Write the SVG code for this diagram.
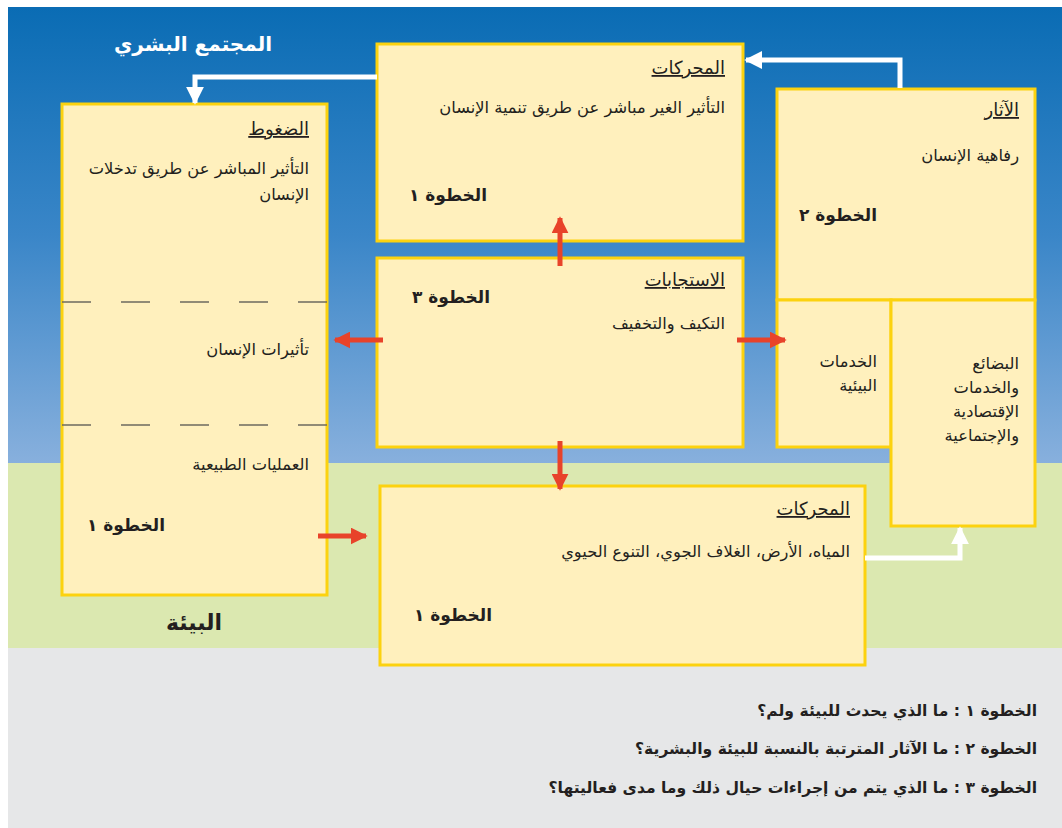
<svg xmlns="http://www.w3.org/2000/svg" width="1062" height="828" viewBox="0 0 1062 828">
<style>
.box{fill:#fff0bd;stroke:#fcd20f;stroke-width:3}
.t{font-family:"DejaVu Sans","Noto Sans",sans-serif;fill:#231f20;direction:rtl;unicode-bidi:embed;text-anchor:start}
.h{font-size:18px;text-decoration:underline}
.b{font-size:16.3px}
.s{font-size:17px;font-weight:bold}
.q{font-size:15.6px;font-weight:bold}
.dash{stroke:#6d6a5f;stroke-width:1.3;stroke-dasharray:29 30}
.wl{fill:none;stroke:#fff;stroke-width:5}
.rl{fill:none;stroke:#e8432a;stroke-width:5}
</style>
<defs>
<linearGradient id="sky" x1="0" y1="0" x2="0" y2="1">
<stop offset="0" stop-color="#0a6cb4"/>
<stop offset="0.5" stop-color="#3a86c8"/>
<stop offset="1" stop-color="#88b0dd"/>
</linearGradient>
<radialGradient id="shadow" cx="0.5" cy="0" r="0.5">
<stop offset="0" stop-color="#555"/>
<stop offset="1" stop-color="#fff" stop-opacity="0"/>
</radialGradient>
<marker id="wh" viewBox="0 0 10 10" refX="9" refY="5" markerWidth="3.6" markerHeight="3.6" orient="auto" markerUnits="strokeWidth">
<path d="M0,0 L10,5 L0,10 z" fill="#fff"/>
</marker>
<marker id="rh" viewBox="0 0 10 10" refX="9" refY="5" markerWidth="3.4" markerHeight="3.4" orient="auto" markerUnits="strokeWidth">
<path d="M0,0 L10,5 L0,10 z" fill="#e8432a"/>
</marker>
</defs>
<rect x="0" y="0" width="1062" height="828" fill="#fff"/>
<ellipse cx="970" cy="0" rx="80" ry="9" fill="url(#shadow)"/>
<rect x="8" y="7" width="1054" height="457" fill="url(#sky)"/>
<rect x="8" y="463" width="1054" height="186" fill="#dbe8b0"/>
<rect x="8" y="648" width="1054" height="180" fill="#e6e7e8"/>
<text class="t" x="272" y="51" style="font-size:20px;font-weight:bold;fill:#fff">المجتمع البشري</text>
<text class="t" x="222" y="630" style="font-size:22px;font-weight:bold">البيئة</text>
<g id="pressures">
<rect class="box" x="62" y="104" width="265" height="491"/>
<line class="dash" x1="62" y1="302" x2="327" y2="302"/>
<line class="dash" x1="62" y1="425" x2="327" y2="425"/>
<text class="t h" x="309" y="135">الضغوط</text>
<text class="t b" x="309" y="174">التأثير المباشر عن طريق تدخلات</text>
<text class="t b" x="309" y="200">الإنسان</text>
<text class="t b" x="309" y="355">تأثيرات الإنسان</text>
<text class="t b" x="309" y="470">العمليات الطبيعية</text>
<text class="t s" x="165" y="531">الخطوة ١</text>
</g>
<g id="drivers-top">
<rect class="box" x="377" y="44" width="366" height="197"/>
<text class="t h" x="725" y="74">المحركات</text>
<text class="t b" x="725" y="113">التأثير الغير مباشر عن طريق تنمية الإنسان</text>
<text class="t s" x="487" y="201">الخطوة ١</text>
</g>
<g id="responses">
<rect class="box" x="377" y="258" width="366" height="189"/>
<text class="t h" x="725" y="286">الاستجابات</text>
<text class="t b" x="725" y="329">التكيف والتخفيف</text>
<text class="t s" x="490" y="303">الخطوة ٣</text>
</g>
<g id="impacts">
<rect class="box" x="777" y="89" width="258" height="211"/>
<text class="t h" x="1019" y="116">الآثار</text>
<text class="t b" x="1019" y="161">رفاهية الإنسان</text>
<text class="t s" x="877" y="221">الخطوة ٢</text>
</g>
<g id="env-services">
<rect class="box" x="777" y="300" width="114" height="147"/>
<text class="t b" x="877" y="367">الخدمات</text>
<text class="t b" x="877" y="391">البيئية</text>
</g>
<g id="goods-services">
<rect class="box" x="891" y="300" width="144" height="226"/>
<text class="t b" x="1019" y="369">البضائع</text>
<text class="t b" x="1019" y="393">والخدمات</text>
<text class="t b" x="1019" y="417">الإقتصادية</text>
<text class="t b" x="1019" y="441">والإجتماعية</text>
</g>
<g id="drivers-bottom">
<rect class="box" x="380" y="486" width="485" height="179"/>
<text class="t h" x="850" y="515">المحركات</text>
<text class="t b" x="850" y="557">المياه، الأرض، الغلاف الجوي، التنوع الحيوي</text>
<text class="t s" x="492" y="621">الخطوة ١</text>
</g>
<g id="connectors">
<path class="wl" d="M377,77 H195 V103" marker-end="url(#wh)"/>
<path class="wl" d="M900,88 V60 H746" marker-end="url(#wh)"/>
<path class="wl" d="M865,558 H960 V528" marker-end="url(#wh)"/>
<path class="rl" d="M560,266 V218" marker-end="url(#rh)"/>
<path class="rl" d="M560,441 V489" marker-end="url(#rh)"/>
<path class="rl" d="M383,340 H335" marker-end="url(#rh)"/>
<path class="rl" d="M737,340 H785" marker-end="url(#rh)"/>
<path class="rl" d="M318,536 H366" marker-end="url(#rh)"/>
</g>
<g id="legend">
<text class="t q" x="1037" y="716">الخطوة ١ : ما الذي يحدث للبيئة ولم؟</text>
<text class="t q" x="1037" y="754">الخطوة ٢ : ما الآثار المترتبة بالنسبة للبيئة والبشرية؟</text>
<text class="t q" x="1037" y="793">الخطوة ٣ : ما الذي يتم من إجراءات حيال ذلك وما مدى فعاليتها؟</text>
</g>
</svg>
